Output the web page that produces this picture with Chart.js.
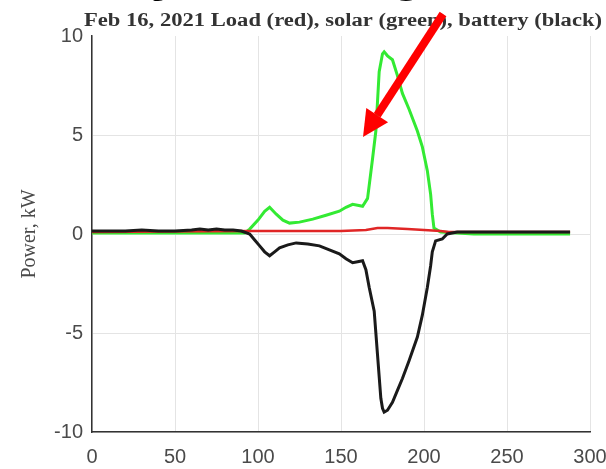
<!DOCTYPE html>
<html>
<head>
<meta charset="utf-8">
<script src="https://cdn.jsdelivr.net/npm/chart.js@4.4.0/dist/chart.umd.min.js"></script>
<style>
  html, body { margin: 0; padding: 0; background: #fff; }
  #wrap { width: 606px; height: 469px; }
</style>
</head>
<body>
<div id="wrap"><canvas id="power_chart" width="606" height="469"></canvas></div>
<script>
// sample index (5 minute steps) and power in kW
var greenX = [0, 20, 40, 60, 80, 92, 95, 100, 104, 107, 111, 115, 119, 125, 133, 141, 149, 153, 157, 160, 163, 166, 169, 171, 173, 175, 176, 178, 181, 184, 187, 191, 196, 199, 202, 204, 205, 206, 210, 230, 250, 270, 288];
var greenY = [0.05, 0.05, 0.05, 0.05, 0.05, 0.05, 0.25, 0.7, 1.15, 1.35, 1.0, 0.7, 0.55, 0.6, 0.75, 0.95, 1.15, 1.35, 1.5, 1.45, 1.4, 1.8, 3.8, 5.2, 8.2, 9.1, 9.2, 9.0, 8.8, 8.0, 7.1, 6.3, 5.2, 4.4, 3.2, 2.0, 1.0, 0.3, 0.1, 0.0, 0.0, 0.0, 0.0];

var blackX = [0, 10, 20, 30, 40, 50, 60, 65, 70, 75, 80, 85, 90, 95, 98, 101, 104, 107, 110, 113, 118, 123, 130, 137, 143, 149, 153, 157, 160, 163, 165, 167, 170, 172, 174, 175, 176, 178, 181, 184, 187, 191, 196, 199, 202, 204, 205, 207, 211, 214, 220, 240, 260, 280, 288];
var blackY = [0.15, 0.15, 0.15, 0.2, 0.15, 0.15, 0.2, 0.25, 0.2, 0.25, 0.2, 0.2, 0.15, 0, -0.3, -0.6, -0.9, -1.1, -0.9, -0.7, -0.55, -0.45, -0.5, -0.6, -0.8, -1.0, -1.25, -1.45, -1.4, -1.35, -1.8, -2.7, -3.9, -6.1, -8.3, -8.8, -9.0, -8.9, -8.5, -7.9, -7.3, -6.4, -5.2, -4.1, -2.7, -1.6, -0.9, -0.35, -0.25, 0.0, 0.1, 0.1, 0.1, 0.1, 0.1];

var redX = [0, 95, 110, 130, 150, 165, 172, 178, 190, 200, 210, 215, 288];
var redY = [0.1, 0.15, 0.15, 0.15, 0.15, 0.2, 0.3, 0.3, 0.25, 0.2, 0.15, 0.1, 0.1];

var xTicks = [0, 50, 100, 150, 200, 250, 300];
var yTicks = [-10, -5, 0, 5, 10];

var titleText = 'Feb 16, 2021 Load (red), solar (green), battery (black)';
var headText = 'Battery discharge';

function pts(xs, ys) {
    return xs.map(function (x, i) { return {x: x, y: ys[i]}; });
}

// title, cropped heading and the red arrow
var overlay = {
    id: 'overlay',
    afterDraw: function (chart) {
        var ctx = chart.ctx;
        ctx.save();
        // title is a bit stretched sideways in the picture
        ctx.font = 'bold 18px "Liberation Serif"';
        ctx.fillStyle = '#333';
        ctx.textAlign = 'center';
        ctx.textBaseline = 'alphabetic';
        var tw = ctx.measureText(titleText).width;
        ctx.save();
        ctx.translate(343, 26);
        ctx.scale(518 / tw, 1);
        ctx.fillText(titleText, 0, 0);
        ctx.restore();

        // big heading above, only its descenders show
        ctx.font = 'bold 100px "Liberation Sans"';
        var yAt = ctx.measureText('Batter').width + ctx.measureText('y').width * 0.4;
        var gAt = ctx.measureText('Battery dischar').width + ctx.measureText('g').width * 0.5;
        var size = 100 * 244 / (gAt - yAt);
        var x0 = 163 - yAt * size / 100;
        ctx.font = 'bold ' + size.toFixed(1) + 'px "Liberation Sans"';
        ctx.textAlign = 'left';
        ctx.fillStyle = '#000';
        ctx.fillText(headText, x0, 1 - 0.21 * size);

        // arrow
        var x1 = 443, y1 = 14, x2 = 363, y2 = 137;
        var ang = Math.atan2(y2 - y1, x2 - x1);
        var hl = 26, hw = 13;
        var bx = x2 - hl * Math.cos(ang), by = y2 - hl * Math.sin(ang);
        ctx.strokeStyle = '#ff0000';
        ctx.fillStyle = '#ff0000';
        ctx.lineWidth = 8;
        ctx.beginPath();
        ctx.moveTo(x1, y1);
        ctx.lineTo(bx, by);
        ctx.stroke();
        ctx.beginPath();
        ctx.moveTo(x2, y2);
        ctx.lineTo(bx + hw * Math.sin(ang), by - hw * Math.cos(ang));
        ctx.lineTo(bx - hw * Math.sin(ang), by + hw * Math.cos(ang));
        ctx.closePath();
        ctx.fill();
        ctx.restore();
    }
};

var ctx = document.getElementById('power_chart').getContext('2d');
const power_chart = new Chart(ctx, {
    type: 'line',
    data: {
        datasets: [
            {
                label: 'Battery',
                data: pts(blackX, blackY),
                borderColor: '#1a1a1a',
                borderWidth: 3,
                pointRadius: 0,
                tension: 0,
                order: 0
            },
            {
                label: 'Load',
                data: pts(redX, redY),
                borderColor: '#e02626',
                borderWidth: 2.5,
                pointRadius: 0,
                tension: 0,
                order: 1
            },
            {
                label: 'Solar',
                data: pts(greenX, greenY),
                borderColor: '#33ea33',
                borderWidth: 3,
                pointRadius: 0,
                tension: 0,
                order: 2
            }
        ]
    },
    options: {
        responsive: false,
        animation: false,
        layout: { padding: { top: 36, right: 16, left: 0, bottom: 0 } },
        plugins: {
            legend: { display: false },
            tooltip: { enabled: false },
            title: { display: false }
        },
        scales: {
            x: {
                type: 'linear',
                min: 0,
                max: 300,
                afterBuildTicks: function (s) { s.ticks = xTicks.map(function (v) { return {value: v}; }); },
                afterFit: function (s) { s.height = 37; s.paddingRight = 0; s.paddingLeft = 0; },
                grid: { color: '#e4e4e4', drawTicks: false },
                border: { color: '#333', width: 1.5 },
                ticks: {
                    padding: 13,
                    color: '#4a4a4a',
                    font: { family: '"Liberation Sans"', size: 20 }
                }
            },
            y: {
                min: -10,
                max: 10,
                afterBuildTicks: function (s) { s.ticks = yTicks.map(function (v) { return {value: v}; }); },
                afterFit: function (s) { s.width = 92; s.paddingTop = 0; s.paddingBottom = 0; },
                grid: {
                    drawTicks: false,
                    color: function (c) { return c.tick && c.tick.value === 10 ? 'rgba(0,0,0,0)' : '#e4e4e4'; }
                },
                border: { color: '#333', width: 1.5 },
                title: {
                    display: true,
                    text: 'Power, kW',
                    color: '#4a4a4a',
                    padding: { top: 18, bottom: 0 },
                    font: { family: '"Liberation Serif"', size: 20 }
                },
                ticks: {
                    padding: 9,
                    color: '#4a4a4a',
                    font: { family: '"Liberation Sans"', size: 20 }
                }
            }
        }
    },
    plugins: [overlay]
});
</script>
</body>
</html>
